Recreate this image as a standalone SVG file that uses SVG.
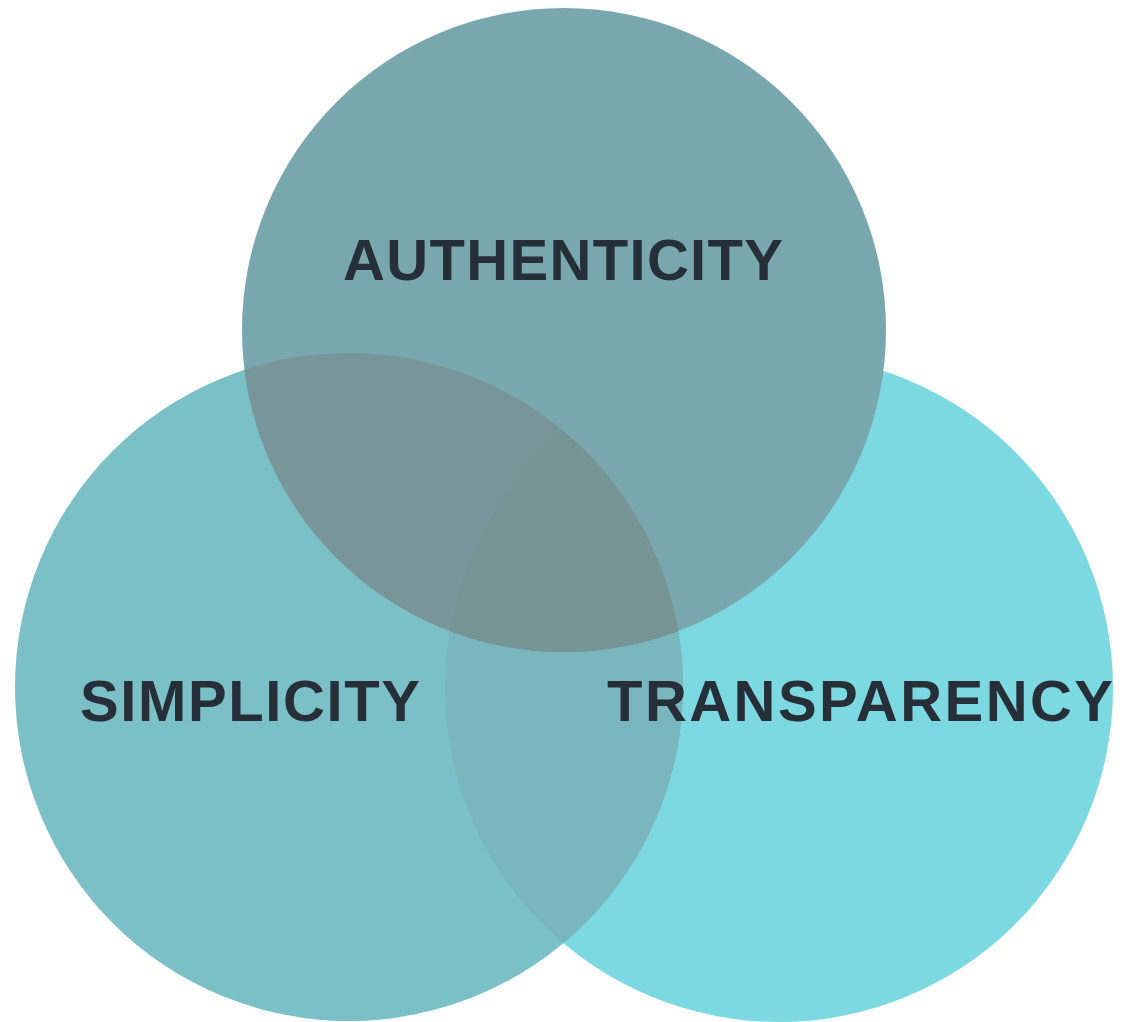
<svg xmlns="http://www.w3.org/2000/svg" width="1123" height="1022" viewBox="0 0 1123 1022">
<style>
.lbl{font-family:"Liberation Sans",Arial,sans-serif;font-weight:bold;font-size:58px;fill:#262f38;}
</style>
<defs>
<clipPath id="cTop"><circle cx="564" cy="330" r="322"/></clipPath>
<clipPath id="cLeft"><circle cx="349" cy="687" r="334"/></clipPath>
<clipPath id="cRight"><circle cx="779" cy="688" r="334"/></clipPath>
</defs>
<rect width="1123" height="1022" fill="#ffffff"/>
<g id="right"><circle cx="779" cy="688" r="334" fill="#7dd9e1"/></g>
<g id="left"><circle cx="349" cy="687" r="334" fill="#7bc0c6"/></g>
<g id="top"><circle cx="564" cy="330" r="322" fill="#78a8ad"/></g>
<g id="overlaps">
<circle cx="779" cy="688" r="334" fill="#7ab6bd" clip-path="url(#cLeft)"/>
<circle cx="564" cy="330" r="322" fill="#78969a" clip-path="url(#cLeft)"/>
<g clip-path="url(#cRight)"><circle cx="564" cy="330" r="322" fill="#779494" clip-path="url(#cLeft)"/></g>
</g>
<g id="labels">
<text class="lbl" x="343" y="280" textLength="440" lengthAdjust="spacing">AUTHENTICITY</text>
<text class="lbl" x="80" y="721" textLength="340" lengthAdjust="spacing">SIMPLICITY</text>
<text class="lbl" x="607" y="721" textLength="506" lengthAdjust="spacing">TRANSPARENCY</text>
</g>
</svg>
